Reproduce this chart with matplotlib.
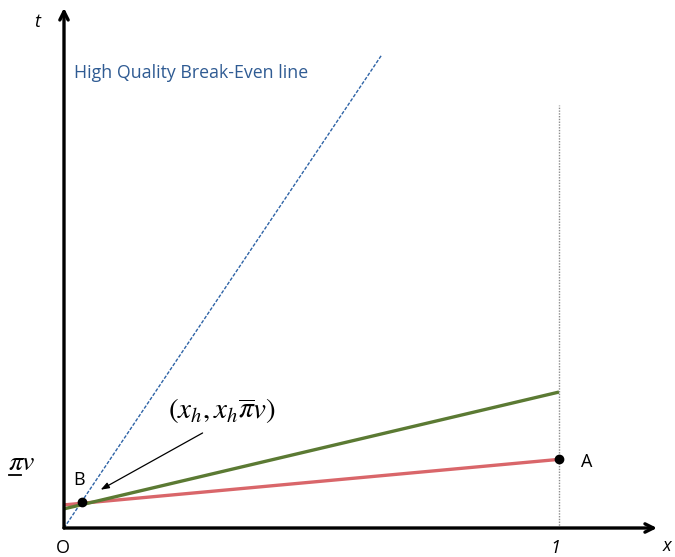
import numpy as np
import matplotlib.pyplot as plt

plt.rcParams['mathtext.fontset'] = 'stix'

# break-even point B = (x_h, x_h * pi_bar * v)
x_h = 0.036
t_B = 0.40

# high quality break-even line through the origin
hq_x = [0.0, 0.642]
hq_t = [0.0, 7.17]

# the two cost lines, from x = 0 to x = 1
green_x = [0.0, 1.0]
green_t = [0.29, 2.06]
red_x = [0.0, 1.0]
red_t = [0.35, 1.04]

# point A and the vertical guide at x = 1
A = (1.0, 1.04)
guide_top = 6.41
pi_v = 1.0

fig = plt.figure(figsize=(6.75, 5.57), dpi=100)
ax = fig.add_axes([0, 0, 1, 1])
ax.set_xlim(-64 / 495, (675 - 64) / 495)
ax.set_ylim(-29 / 66, 528 / 66)
ax.axis('off')

# axes with open arrow heads
ax.annotate('', xy=(1.198, 0), xytext=(0, 0),
            arrowprops=dict(arrowstyle='->,head_length=0.6,head_width=0.3',
                            lw=2.4, color='black', shrinkA=0, shrinkB=0))
ax.annotate('', xy=(0, 7.88), xytext=(0, 0),
            arrowprops=dict(arrowstyle='->,head_length=0.6,head_width=0.3',
                            lw=2.4, color='black', shrinkA=0, shrinkB=0))

ax.plot([1, 1], [0, guide_top], color='#8c8c8c', lw=1.0, ls=(0, (1, 1)))
ax.plot(hq_x, hq_t, color='#2e63a6', lw=1.0, ls=(0, (2.5, 1.2)))
ax.plot(red_x, red_t, color='#d9666a', lw=2.4, solid_capstyle='butt')
ax.plot(green_x, green_t, color='#5b7a33', lw=2.4, solid_capstyle='butt')

ax.plot([x_h], [t_B], 'o', color='black', ms=6)
ax.plot([A[0]], [A[1]], 'o', color='black', ms=6)

ax.text(0.02, 6.9, 'High Quality Break-Even line', color='#2f5b93',
        fontsize=12.8, family='Open Sans', va='center', ha='left')

ax.annotate('', xy=(x_h + 0.038, t_B + 0.18), xytext=(0.28, 1.44),
            arrowprops=dict(arrowstyle='-|>,head_length=0.5,head_width=0.18',
                            lw=0.9, color='black', shrinkA=0, shrinkB=0))
ax.text(0.32, 1.77, r'$(x_h, x_h\overline{\pi}v)$', fontsize=21,
        ha='center', va='center')

ax.text(-0.0545, 7.67, 't', fontsize=13, style='italic', family='Open Sans',
        ha='center', va='center')
ax.text(1.218, -0.27, 'x', fontsize=13, style='italic', family='Open Sans',
        ha='center', va='center')
ax.text(0.992, -0.30, '1', fontsize=13, style='italic', family='Open Sans',
        ha='center', va='center')
ax.text(-0.002, -0.30, 'O', fontsize=13, family='Open Sans',
        ha='center', va='center')
ax.text(1.055, pi_v * 1.0, 'A', fontsize=13, family='Open Sans',
        ha='center', va='center')
ax.text(0.03, 0.72, 'B', fontsize=13, family='Open Sans',
        ha='center', va='center')

# pi v label on the t axis, with the bar under pi
ax.text(-0.113, pi_v - 0.12, r'$\pi v$', fontsize=20, ha='left', va='baseline')
ax.plot([-0.112, -0.087], [pi_v - 0.20, pi_v - 0.20], color='black', lw=1.3)

fig.savefig('out.png', dpi=100)
